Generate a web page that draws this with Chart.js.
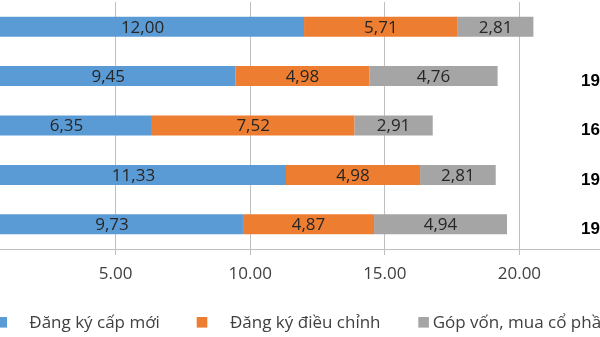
<!DOCTYPE html>
<html><head><meta charset="utf-8">
<script src="https://cdn.jsdelivr.net/npm/chart.js@4/dist/chart.umd.min.js"></script>
<style>
html,body{margin:0;padding:0;background:#fff;overflow:hidden}
#wrap{position:relative;width:600px;height:337px;overflow:hidden;background:#fff}
#c{position:absolute;left:-19px;top:0}
</style></head>
<body><div id="wrap"><canvas id="c" width="680" height="337"></canvas></div>
<script>
// Rows (category labels are cropped off the left edge of the reference)
const categories = ['1', '2', '3', '4', '5'];
const seriesNames = ['Đăng ký cấp mới', 'Đăng ký điều chỉnh', 'Góp vốn, mua cổ phần'];
const newRegistration = [12.00, 9.45, 6.35, 11.33, 9.73];
const adjustedCapital = [5.71, 4.98, 7.52, 4.98, 4.87];
const shareContribution = [2.81, 4.76, 2.91, 2.81, 4.94];
const totalLabels = [null, '19,19', '16,78', '19,12', '19,54'];
const xTicks = [5, 10, 15, 20, 25];

const colors = ['#5B9BD5', '#ED7D31', '#A5A5A5'];
const FONT = '"Open Sans", sans-serif';

const valueLabels = {
  id: 'valueLabels',
  afterDatasetsDraw(chart) {
    const ctx = chart.ctx;
    ctx.save();
    ctx.font = '17px ' + FONT;
    ctx.fillStyle = '#262626';
    ctx.textAlign = 'center';
    ctx.textBaseline = 'middle';
    chart.data.datasets.forEach((ds, i) => {
      chart.getDatasetMeta(i).data.forEach((el, j) => {
        const v = ds.data[j];
        ctx.fillText(v.toFixed(2).replace('.', ','), (el.x + el.base) / 2, el.y + 1);
      });
    });
    const last = chart.getDatasetMeta(chart.data.datasets.length - 1).data;
    ctx.font = 'bold 17px "Liberation Sans", Arial, sans-serif';
    ctx.fillStyle = '#000';
    ctx.textAlign = 'left';
    last.forEach((el, j) => {
      if (totalLabels[j]) ctx.fillText(totalLabels[j], 600, el.y + 5);
    });
    ctx.restore();
  }
};

const customLegend = {
  id: 'customLegend',
  afterDraw(chart) {
    const ctx = chart.ctx;
    const boxX = [15.4, 215.7, 437.3];
    const textX = [48.3, 249, 451.7];
    ctx.save();
    ctx.font = '17px ' + FONT;
    ctx.textBaseline = 'alphabetic';
    seriesNames.forEach((n, i) => {
      ctx.fillStyle = colors[i];
      ctx.fillRect(boxX[i], 317, 10.6, 10.6);
      ctx.fillStyle = '#404040';
      ctx.fillText(n, textX[i], 327.5);
    });
    ctx.restore();
  }
};

new Chart(document.getElementById('c'), {
  type: 'bar',
  data: {
    labels: categories,
    datasets: [
      { label: seriesNames[0], data: newRegistration, backgroundColor: colors[0] },
      { label: seriesNames[1], data: adjustedCapital, backgroundColor: colors[1] },
      { label: seriesNames[2], data: shareContribution, backgroundColor: colors[2] }
    ]
  },
  options: {
    indexAxis: 'y',
    responsive: false,
    animation: false,
    devicePixelRatio: 1,
    layout: { padding: { top: 2, left: 0, right: 7, bottom: 0 } },
    datasets: { bar: { categoryPercentage: 1, barPercentage: 0.405 } },
    plugins: { legend: { display: false }, tooltip: { enabled: false } },
    scales: {
      x: {
        stacked: true, min: 0, max: 25,
        afterBuildTicks(s) { s.ticks = xTicks.map(v => ({ value: v })); },
        afterFit(s) { s.height = 88; s.paddingLeft = 0; s.paddingRight = 0; },
        grid: { color: '#BFBFBF', tickLength: 6, drawTicks: true, lineWidth: 1 },
        border: { display: true, color: '#BFBFBF' },
        ticks: { padding: 9, color: '#404040', font: { family: FONT, size: 17 },
                 callback: v => Number(v).toFixed(2) }
      },
      y: {
        stacked: true,
        display: false
      }
    }
  },
  plugins: [valueLabels, customLegend]
});
</script></body></html>
